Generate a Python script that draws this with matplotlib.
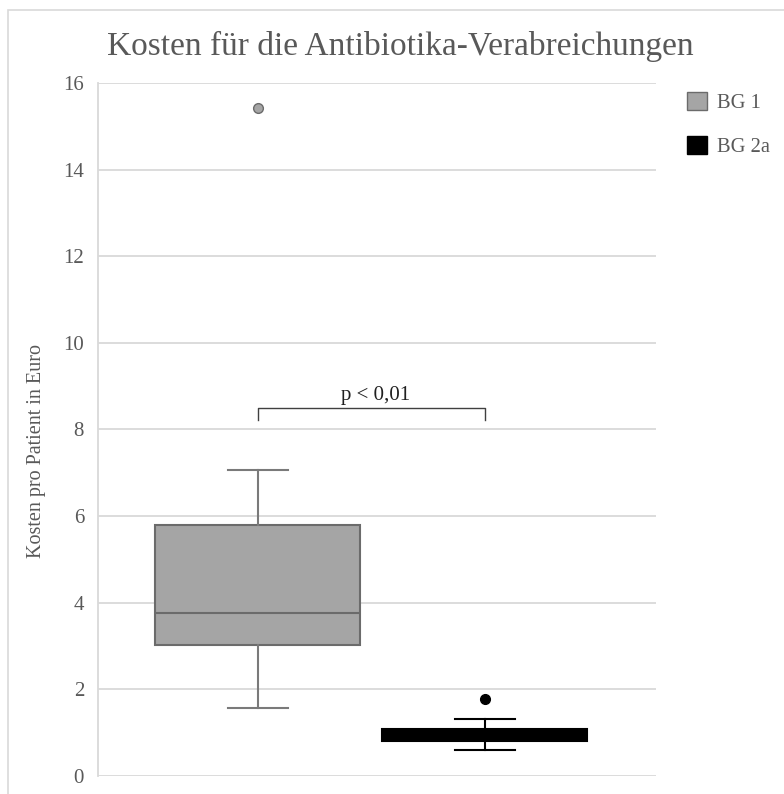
import matplotlib.pyplot as plt
from matplotlib.patches import Patch, Rectangle

plt.rcParams['font.family'] = ['Liberation Serif', 'DejaVu Serif']

# Werte
groups = ["BG 1", "BG 2a"]
whislo = [1.57, 0.60]
q1 = [3.03, 0.81]
med = [3.77, 0.95]
q3 = [5.80, 1.09]
whishi = [7.07, 1.32]
fliers = [[15.43], [1.78]]
p_text = "p < 0,01"
bracket_y = 8.50
bracket_tick = 8.23

face_colors = ['#a5a5a5', '#000000']
edge_colors = ['#6b6b6b', '#000000']
whisker_colors = ['#7a7a7a', '#000000']
text_gray = '#595959'

fig = plt.figure(figsize=(7.84, 7.94), dpi=100)
ax = fig.add_axes([0.125, 0.0227, 0.7117, 0.8728])

# Rahmen um das Diagramm
fig.patches.append(Rectangle((0.0102, -0.1), 1.2, 1.0874, transform=fig.transFigure,
                             fill=False, edgecolor='#d9d9d9', lw=1.2))

for i, name in enumerate(groups):
    stats = [dict(label=name, whislo=whislo[i], q1=q1[i], med=med[i],
                  q3=q3[i], whishi=whishi[i], fliers=fliers[i])]
    ax.bxp(stats, positions=[i + 1], widths=0.90, capwidths=0.265,
           patch_artist=True, manage_ticks=False,
           boxprops=dict(facecolor=face_colors[i], edgecolor=edge_colors[i], lw=1.5),
           medianprops=dict(color=edge_colors[i], lw=1.5),
           whiskerprops=dict(color=whisker_colors[i], lw=1.5),
           capprops=dict(color=whisker_colors[i], lw=1.5),
           flierprops=dict(marker='o', markersize=7, markerfacecolor=face_colors[i],
                           markeredgecolor=edge_colors[i], markeredgewidth=1))

# Signifikanzklammer
ax.plot([1, 1, 2, 2], [bracket_tick, bracket_y, bracket_y, bracket_tick],
        color='#404040', lw=1)
ax.text(1.52, bracket_y + 0.07, p_text, ha='center', va='bottom', fontsize=15, color='#202020')

ax.set_xlim(0.297, 2.755)
ax.set_ylim(0, 16)
ax.set_yticks(range(0, 17, 2))
ax.set_xticks([])
ax.yaxis.grid(True, color='#d9d9d9', lw=1.3)
ax.set_axisbelow(True)
for side in ['top', 'right', 'bottom']:
    ax.spines[side].set_visible(False)
ax.spines['left'].set_color('#d9d9d9')
ax.spines['left'].set_linewidth(1.3)
ax.tick_params(axis='y', length=0, pad=10, labelsize=15, labelcolor=text_gray)

ax.set_ylabel("Kosten pro Patient in Euro", fontsize=14.5, color=text_gray)
ax.yaxis.set_label_coords(-0.093, 0.469)
fig.text(0.511, 0.942, "Kosten für die Antibiotika-Verabreichungen", ha='center',
         va='center', fontsize=24, color=text_gray)

handles = [Patch(facecolor=face_colors[i], edgecolor=edge_colors[i], lw=1, label=groups[i])
           for i in range(2)]
fig.legend(handles=handles, loc='upper left', bbox_to_anchor=(0.853, 0.907),
           frameon=False, fontsize=14.8, handlelength=0.95, handleheight=0.95,
           labelspacing=1.1, handletextpad=0.5, labelcolor=text_gray)

fig.savefig('out.png', dpi=100)
